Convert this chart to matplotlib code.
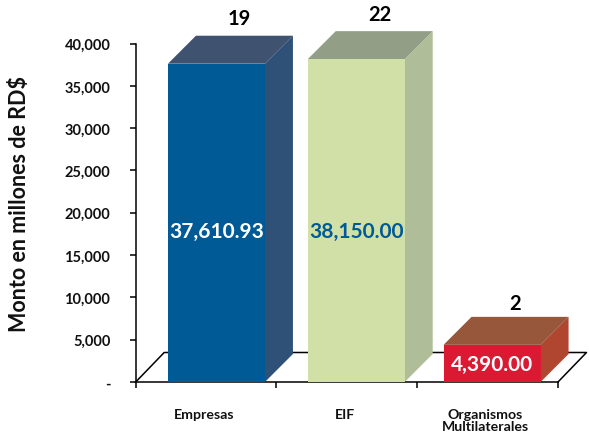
import matplotlib
matplotlib.use("Agg")
import matplotlib.pyplot as plt
from matplotlib.patches import Polygon

categories = ["Empresas", "EIF", "Organismos\nMultilaterales"]
amounts = [37610.93, 38150.00, 4390.00]
amount_labels = ["37,610.93", "38,150.00", "4,390.00"]
counts = ["19", "22", "2"]
y_ticks = [0, 5000, 10000, 15000, 20000, 25000, 30000, 35000, 40000]
y_tick_labels = ["-", "5,000", "10,000", "15,000", "20,000", "25,000", "30,000", "35,000", "40,000"]
front_colors = ["#005A96", "#D0E0A7", "#D91A32"]
side_colors = ["#2F5077", "#AFBE98", "#B04530"]
top_colors = ["#3F5270", "#939E87", "#96573A"]
label_colors = ["white", "#005A96", "white"]
font = "Lato"

W, H = 589, 439
L, R, T, B = 135.7, 558, 44.5, 383
fig = plt.figure(figsize=(W / 100, H / 100), dpi=100)
ax = fig.add_axes([L / W, 1 - B / H, (R - L) / W, (B - T) / H])
ax.set_xlim(0, 3)
ax.set_ylim(0, 40000)

ux = (R - L) / 3           # pixels per category
uy = (B - T) / 40000       # pixels per unit
dx, dy = 28 / ux, 28 / uy  # depth of the 3D boxes
fx, fy = 28.5 / ux, 29.5 / uy
starts = [0.229, 1.222, 2.187]
width = 97 / ux
count_gaps = [2120, 2030, 1640]

ax.plot([0, fx, 3 + fx, 3], [0, fy, fy, 0], color="black", lw=1.1, clip_on=False, zorder=1)

for i, v in enumerate(amounts):
    x0 = starts[i]
    x1 = x0 + width
    ax.add_patch(Polygon([(x1, 0), (x1 + dx, dy), (x1 + dx, v + dy), (x1, v)], fc=side_colors[i], ec="none", clip_on=False, zorder=2))
    ax.add_patch(Polygon([(x0, v), (x0 + dx, v + dy), (x1 + dx, v + dy), (x1, v)], fc=top_colors[i], ec="none", clip_on=False, zorder=2))
    ax.bar(x0, v, width=width, align="edge", color=front_colors[i], clip_on=False, zorder=3)
    ax.text(x0 + width / 2, v / 2 - 100 if i == 2 else 17800, amount_labels[i], color=label_colors[i],
            ha="center", va="center", fontsize=15, fontweight="bold", family=font, zorder=4)
    ax.text(x0 + width / 2 + 0.165, v + dy + count_gaps[i], counts[i], color="black",
            ha="center", va="center", fontsize=14.5, fontweight="bold", family=font, clip_on=False)

ax.set_yticks(y_ticks)
ax.set_yticklabels(y_tick_labels, fontsize=10.5, fontweight="bold", family=font, color="#111111")
ax.set_xticks([0, 1, 2, 3])
ax.set_xticklabels([])
ax.tick_params(axis="y", length=4.3, width=1.1, pad=14)
ax.tick_params(axis="x", length=4.3, width=1.1)
for i, c in enumerate(categories):
    ax.annotate(c, (i + 0.5, 0), xytext=(-1.5, -18.5), xycoords="data", textcoords="offset points",
                ha="center", va="top", fontsize=10.2, fontweight="bold", family=font,
                linespacing=1.04, color="#111111")
for s in ("top", "right"):
    ax.spines[s].set_visible(False)
for s in ("left", "bottom"):
    ax.spines[s].set_linewidth(1.1)
ax.patch.set_alpha(0)

fig.text(20 / W, 1 - 204 / H, "Monto en millones de RD$", rotation=90, ha="center", va="center",
         fontsize=15.5, fontweight="bold", family=font, color="#111111")
fig.savefig("out.png", dpi=100)
